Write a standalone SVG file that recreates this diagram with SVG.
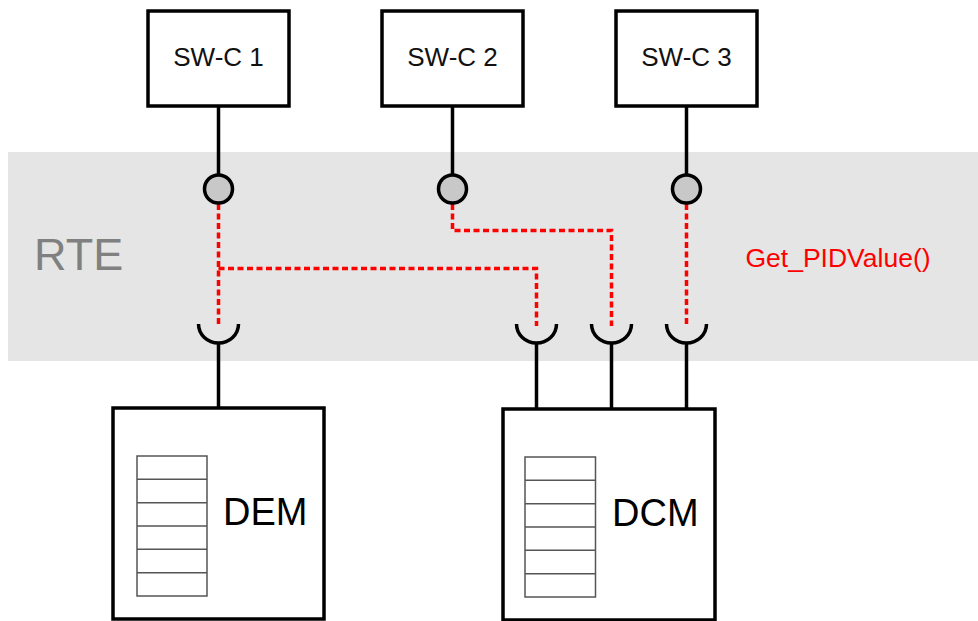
<svg xmlns="http://www.w3.org/2000/svg" width="978" height="621" viewBox="0 0 978 621">
<style>
.box{fill:#fff;stroke:#000;stroke-width:3.5}
.lbl{font-family:"Liberation Sans",Arial,sans-serif;font-size:26px;fill:#111;text-anchor:middle}
.big{font-family:"Liberation Sans",Arial,sans-serif;font-size:38px;fill:#000}
.ln{stroke:#000;stroke-width:3.5;fill:none}
.port{fill:#c8c8c8;stroke:#000;stroke-width:3.5}
.sock{fill:none;stroke:#000;stroke-width:3.5}
.red{stroke:#ff0000;stroke-width:3.5;fill:none;stroke-dasharray:6 3.5}
.list{fill:#fff;stroke:#555;stroke-width:1.5}
</style>
<rect x="0" y="0" width="978" height="621" fill="#fff"/>
<rect id="rte" x="8" y="152" width="970" height="209" fill="#e5e5e5"/>
<text x="34" y="270" font-family="'Liberation Sans',Arial,sans-serif" font-size="45" fill="#808080">RTE</text>
<text x="838" y="267" font-family="'Liberation Sans',Arial,sans-serif" font-size="26.5" fill="#ff0000" text-anchor="middle">Get_PIDValue()</text>

<g id="connectors">
  <line class="ln" x1="218.5" y1="106" x2="218.5" y2="175"/>
  <line class="ln" x1="452.5" y1="106" x2="452.5" y2="175"/>
  <line class="ln" x1="686.5" y1="106" x2="686.5" y2="175"/>
  <path class="red" d="M218.5,204 V326"/>
  <path class="red" d="M218.5,268.5 H536.5 V326"/>
  <path class="red" d="M452.5,204 V230.5 H611.5 V326"/>
  <path class="red" d="M686.5,204 V326"/>
  <line class="ln" x1="218.5" y1="343" x2="218.5" y2="408"/>
  <line class="ln" x1="536.5" y1="343" x2="536.5" y2="409"/>
  <line class="ln" x1="611.5" y1="343" x2="611.5" y2="409"/>
  <line class="ln" x1="686.5" y1="343" x2="686.5" y2="409"/>
</g>

<g id="ports">
  <circle class="port" cx="218.5" cy="189" r="14"/>
  <circle class="port" cx="452.5" cy="189" r="14"/>
  <circle class="port" cx="686.5" cy="189" r="14"/>
  <path class="sock" d="M198.5,324 A20,19 0 0 0 238.5,324"/>
  <path class="sock" d="M516.5,324 A20,19 0 0 0 556.5,324"/>
  <path class="sock" d="M591.5,324 A20,19 0 0 0 631.5,324"/>
  <path class="sock" d="M666.5,324 A20,19 0 0 0 706.5,324"/>
</g>

<g id="swc1">
  <rect class="box" x="148" y="11" width="141" height="95"/>
  <text class="lbl" x="218.5" y="66">SW-C 1</text>
</g>
<g id="swc2">
  <rect class="box" x="382" y="11" width="141" height="95"/>
  <text class="lbl" x="452.5" y="66">SW-C 2</text>
</g>
<g id="swc3">
  <rect class="box" x="616" y="11" width="141" height="95"/>
  <text class="lbl" x="686.5" y="66">SW-C 3</text>
</g>

<g id="dem">
  <rect class="box" x="113" y="408" width="211" height="211"/>
  <rect class="list" x="137" y="456" width="70" height="140"/>
  <path class="list" d="M137,479.3 H207 M137,502.7 H207 M137,526 H207 M137,549.3 H207 M137,572.7 H207"/>
  <text class="big" x="223" y="525">DEM</text>
</g>
<g id="dcm">
  <rect class="box" x="503" y="409" width="212" height="211"/>
  <rect class="list" x="525" y="457" width="70.5" height="140"/>
  <path class="list" d="M525,480.3 H595.5 M525,503.7 H595.5 M525,527 H595.5 M525,550.3 H595.5 M525,573.7 H595.5"/>
  <text class="big" x="612" y="526">DCM</text>
</g>
</svg>
